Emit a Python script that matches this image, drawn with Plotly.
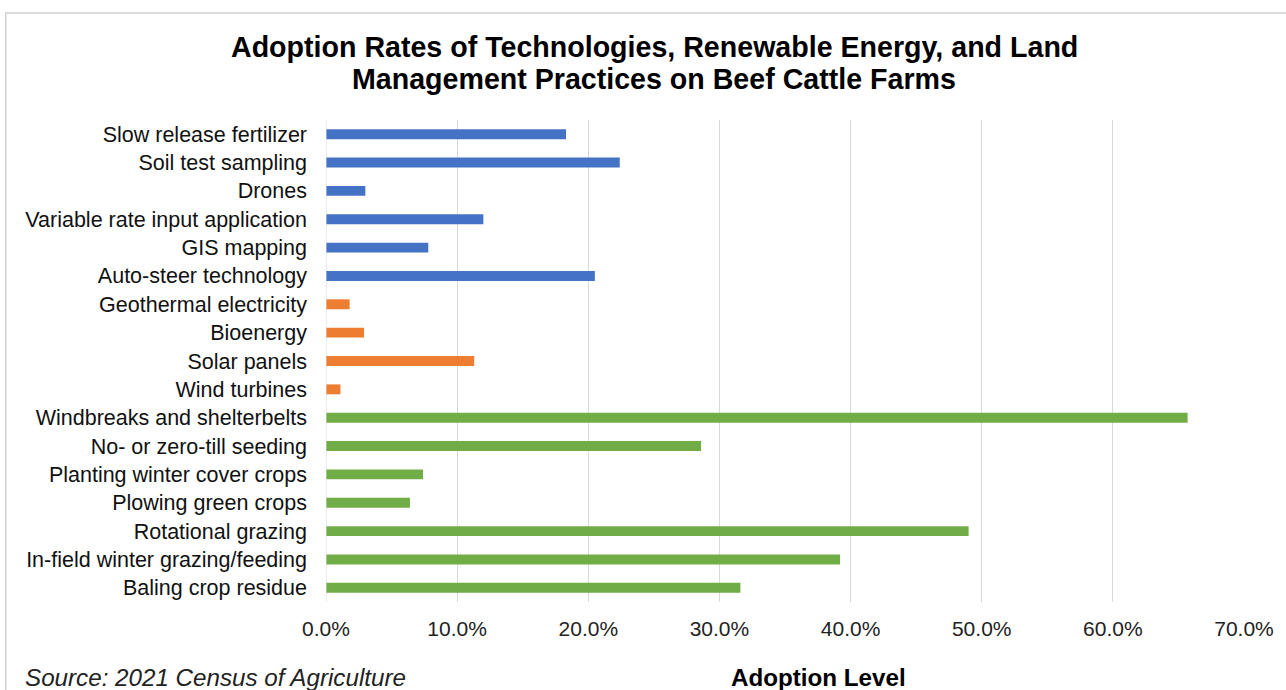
import plotly.graph_objects as go

categories = [
    "Slow release fertilizer", "Soil test sampling", "Drones",
    "Variable rate input application", "GIS mapping", "Auto-steer technology",
    "Geothermal electricity", "Bioenergy", "Solar panels", "Wind turbines",
    "Windbreaks and shelterbelts", "No- or zero-till seeding",
    "Planting winter cover crops", "Plowing green crops", "Rotational grazing",
    "In-field winter grazing/feeding", "Baling crop residue",
]
values = [0.183, 0.224, 0.030, 0.120, 0.078, 0.205,
          0.018, 0.029, 0.113, 0.011,
          0.657, 0.286, 0.074, 0.064, 0.490, 0.392, 0.316]
groups = ["Technology"] * 6 + ["Renewable energy"] * 4 + ["Land management"] * 7
group_colors = {"Technology": "#4472C4", "Renewable energy": "#ED7D31",
                "Land management": "#70AD47"}
x_ticks = [0, 0.1, 0.2, 0.3, 0.4, 0.5, 0.6, 0.7]
title_lines = ["Adoption Rates of Technologies, Renewable Energy, and Land",
               "Management Practices on Beef Cattle Farms"]

FONT = "Liberation Sans, Arial, sans-serif"
W, H = 1286, 690
L, R, T, B = 326, 37, 120, 88
pw, ph = W - L - R, H - T - B


def px_to_paper_x(px):
    return (px - L) / pw


def px_to_paper_y(py):
    return ((H - B) - py) / ph


fig = go.Figure(go.Bar(
    x=values, y=categories, orientation="h",
    marker=dict(color=[group_colors[g] for g in groups], line=dict(width=0)),
    width=0.35, showlegend=False,
))

fig.update_layout(
    width=W, height=H,
    margin=dict(l=L, r=R, t=T, b=B),
    paper_bgcolor="white", plot_bgcolor="white",
    font=dict(family=FONT, color="#222222", size=18),
    xaxis=dict(
        range=[0, 0.7], tickvals=x_ticks, tickformat=".1%",
        showgrid=True, gridcolor="#d9d9d9", gridwidth=1,
        zeroline=False, showline=False, ticks="",
        tickfont=dict(size=21, color="#222222"), ticklabelstandoff=12,
        fixedrange=True,
    ),
    yaxis=dict(
        categoryorder="array", categoryarray=categories[::-1],
        showgrid=False, zeroline=False, showline=False, ticks="",
        tickfont=dict(size=21.5, color="#111111"), ticklabelstandoff=18,
        range=[-0.5, len(categories) - 0.5],
    ),
)

# vertical line at 0 (axis)
fig.add_shape(type="line", xref="x", yref="paper", x0=0, x1=0, y0=0, y1=1,
              line=dict(color="#d9d9d9", width=1))

# outer border
fig.add_shape(type="rect", xref="paper", yref="paper",
              x0=px_to_paper_x(4), x1=px_to_paper_x(W + 10),
              y0=px_to_paper_y(H + 10), y1=px_to_paper_y(13),
              line=dict(color="#cfcfcf", width=1.5), layer="below")

for line, ypx in zip(title_lines, [47, 79]):
    fig.add_annotation(text=f"<b>{line}</b>", xref="paper", yref="paper",
                       x=px_to_paper_x(656), y=px_to_paper_y(ypx),
                       xanchor="center", yanchor="middle", showarrow=False,
                       font=dict(family=FONT, size=28.6, color="#000000"))

fig.add_annotation(text="<i>Source: 2021 Census of Agriculture</i>", xref="paper", yref="paper",
                   x=px_to_paper_x(21), y=px_to_paper_y(677), xanchor="left", yanchor="middle",
                   showarrow=False, font=dict(family=FONT, size=24.2, color="#222222"))
fig.add_annotation(text="<b>Adoption Level</b>", xref="paper", yref="paper",
                   x=px_to_paper_x(821), y=px_to_paper_y(677), xanchor="center", yanchor="middle",
                   showarrow=False, font=dict(family=FONT, size=24.2, color="#000000"))

fig.write_html("out.html")
